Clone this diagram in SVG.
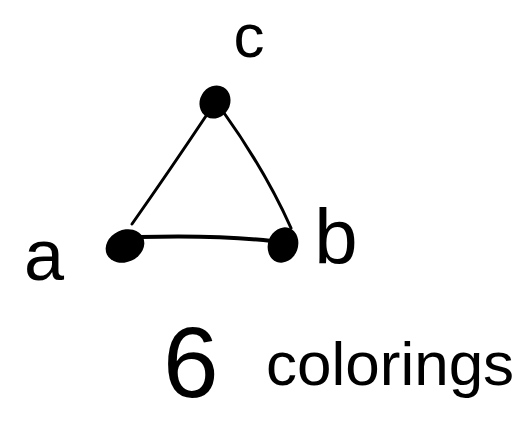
<svg xmlns="http://www.w3.org/2000/svg" width="520" height="431" viewBox="0 0 520 431">
  <style>
    .edge { fill: none; stroke: #000; stroke-width: 3; stroke-linecap: round; }
    .dot { fill: #000; }
    .lbl { font-family: "Liberation Sans", "DejaVu Sans", sans-serif; fill: #000; }
  </style>
  <rect width="520" height="431" fill="#fff"/>
  <g id="connectors">
    <path class="edge" d="M210,110 Q170,170 132,224"/>
    <path class="edge" d="M222,110 Q265,170 291,228"/>
    <path class="edge" d="M140,237 Q220,235 272,241" style="stroke-width:4"/>
  </g>
  <g id="node-c">
    <ellipse class="dot" cx="215" cy="102" rx="15" ry="17" transform="rotate(30 215 102)"/>
    <text class="lbl" x="249" y="57" font-size="62" text-anchor="middle">c</text>
  </g>
  <g id="node-a">
    <ellipse class="dot" cx="125" cy="246" rx="20" ry="16" transform="rotate(-25 125 246)"/>
    <text class="lbl" x="44" y="280" font-size="72" text-anchor="middle">a</text>
  </g>
  <g id="node-b">
    <ellipse class="dot" cx="283" cy="245" rx="15" ry="18" transform="rotate(20 283 245)"/>
    <text class="lbl" x="336" y="264" font-size="78" text-anchor="middle">b</text>
  </g>
  <g id="caption">
    <text class="lbl"><tspan x="163" y="397" font-size="100">6</tspan><tspan x="266" y="385" font-size="62">colorings</tspan></text>
  </g>
</svg>
